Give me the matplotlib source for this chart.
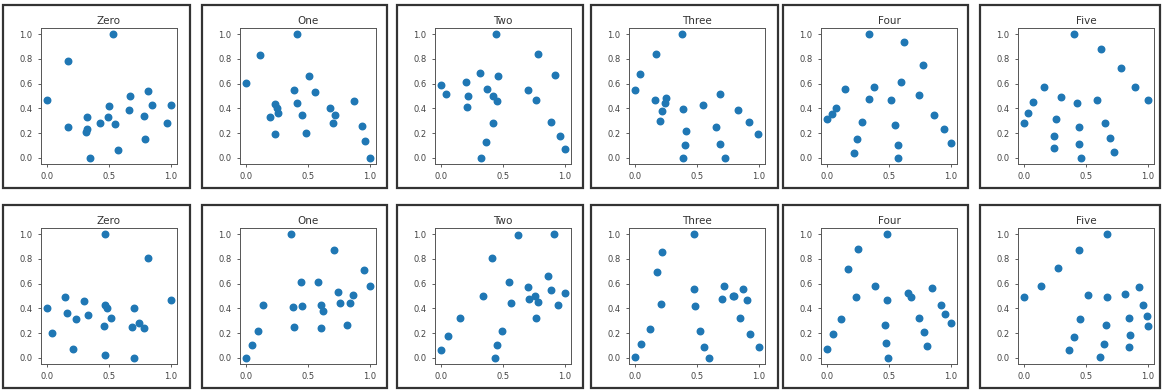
import matplotlib.pyplot as plt
from matplotlib.patches import Rectangle

titles = ["Zero", "One", "Two", "Three", "Four", "Five"]

# top row
zero_top_x = [0.0, 0.167, 0.167, 0.53, 0.325, 0.325, 0.315, 0.35, 0.43, 0.5, 0.49, 0.55, 0.57, 0.67, 0.665, 0.815, 0.845, 0.78, 0.79, 0.97, 1.0]
zero_top_y = [0.47, 0.78, 0.25, 1.0, 0.33, 0.23, 0.21, 0.0, 0.28, 0.42, 0.33, 0.27, 0.06, 0.5, 0.39, 0.54, 0.43, 0.34, 0.15, 0.28, 0.43]
one_top_x = [0.0, 0.11, 0.41, 0.195, 0.235, 0.25, 0.255, 0.23, 0.385, 0.41, 0.45, 0.505, 0.555, 0.485, 0.68, 0.72, 0.705, 0.87, 0.94, 0.96, 1.0]
one_top_y = [0.605, 0.83, 1.0, 0.33, 0.435, 0.4, 0.36, 0.19, 0.55, 0.445, 0.35, 0.66, 0.53, 0.2, 0.4, 0.35, 0.28, 0.46, 0.26, 0.14, 0.0]
two_top_x = [0.0, 0.04, 0.2, 0.22, 0.21, 0.31, 0.37, 0.44, 0.46, 0.42, 0.45, 0.42, 0.36, 0.32, 0.7, 0.78, 0.77, 0.92, 0.89, 0.96, 1.0]
two_top_y = [0.59, 0.515, 0.61, 0.5, 0.41, 0.69, 0.555, 1.0, 0.66, 0.5, 0.46, 0.28, 0.13, 0.0, 0.55, 0.84, 0.47, 0.67, 0.29, 0.18, 0.07]
three_top_x = [0.0, 0.035, 0.17, 0.375, 0.16, 0.25, 0.24, 0.22, 0.2, 0.39, 0.415, 0.4, 0.39, 0.55, 0.69, 0.65, 0.69, 0.725, 0.835, 0.92, 0.995]
three_top_y = [0.545, 0.68, 0.84, 1.0, 0.47, 0.48, 0.44, 0.38, 0.3, 0.395, 0.22, 0.1, 0.0, 0.43, 0.515, 0.25, 0.11, 0.0, 0.385, 0.29, 0.19]
four_top_x = [0.0, 0.035, 0.07, 0.145, 0.22, 0.245, 0.28, 0.335, 0.335, 0.38, 0.52, 0.6, 0.55, 0.57, 0.57, 0.625, 0.775, 0.74, 0.86, 0.945, 1.0]
four_top_y = [0.31, 0.355, 0.405, 0.555, 0.04, 0.15, 0.29, 0.475, 1.0, 0.57, 0.47, 0.61, 0.265, 0.105, 0.0, 0.94, 0.75, 0.51, 0.35, 0.23, 0.12]
five_top_x = [0.0, 0.03, 0.07, 0.16, 0.295, 0.405, 0.255, 0.24, 0.24, 0.43, 0.44, 0.445, 0.46, 0.62, 0.59, 0.655, 0.695, 0.73, 0.78, 0.9, 1.0]
five_top_y = [0.285, 0.365, 0.455, 0.57, 0.49, 1.0, 0.31, 0.18, 0.08, 0.445, 0.25, 0.11, 0.0, 0.88, 0.465, 0.285, 0.16, 0.045, 0.725, 0.57, 0.465]

# bottom row
zero_bot_x = [0.0, 0.035, 0.145, 0.16, 0.21, 0.235, 0.3, 0.33, 0.47, 0.47, 0.48, 0.52, 0.46, 0.465, 0.7, 0.685, 0.74, 0.785, 0.705, 0.815, 1.0]
zero_bot_y = [0.405, 0.2, 0.49, 0.36, 0.075, 0.31, 0.46, 0.35, 1.0, 0.425, 0.405, 0.325, 0.26, 0.02, 0.405, 0.25, 0.285, 0.245, 0.0, 0.805, 0.465]
one_bot_x = [0.0, 0.05, 0.095, 0.14, 0.365, 0.38, 0.385, 0.445, 0.455, 0.58, 0.605, 0.62, 0.605, 0.71, 0.74, 0.76, 0.84, 0.865, 0.815, 0.95, 1.0]
one_bot_y = [0.0, 0.1, 0.215, 0.425, 1.0, 0.41, 0.25, 0.61, 0.42, 0.61, 0.43, 0.38, 0.245, 0.87, 0.535, 0.44, 0.44, 0.51, 0.265, 0.71, 0.58]
two_bot_x = [0.0, 0.055, 0.15, 0.34, 0.415, 0.435, 0.455, 0.49, 0.55, 0.565, 0.625, 0.705, 0.71, 0.76, 0.785, 0.765, 0.865, 0.885, 0.91, 0.945, 1.0]
two_bot_y = [0.06, 0.18, 0.325, 0.5, 0.81, 0.0, 0.1, 0.22, 0.615, 0.44, 0.995, 0.575, 0.475, 0.5, 0.455, 0.32, 0.66, 0.55, 1.0, 0.43, 0.525]
three_bot_x = [0.0, 0.05, 0.12, 0.18, 0.22, 0.21, 0.475, 0.475, 0.48, 0.525, 0.555, 0.6, 0.705, 0.72, 0.79, 0.8, 0.875, 0.905, 0.85, 0.93, 1.0]
three_bot_y = [0.005, 0.11, 0.235, 0.695, 0.855, 0.435, 1.0, 0.56, 0.42, 0.215, 0.09, 0.0, 0.475, 0.58, 0.5, 0.5, 0.56, 0.47, 0.32, 0.19, 0.09]
four_bot_x = [0.0, 0.045, 0.11, 0.165, 0.25, 0.23, 0.385, 0.48, 0.48, 0.47, 0.475, 0.495, 0.655, 0.68, 0.745, 0.78, 0.81, 0.85, 0.92, 0.955, 1.0]
four_bot_y = [0.068, 0.19, 0.31, 0.72, 0.88, 0.49, 0.58, 1.0, 0.465, 0.265, 0.12, 0.0, 0.525, 0.49, 0.32, 0.205, 0.095, 0.565, 0.43, 0.355, 0.28]
five_bot_x = [0.0, 0.14, 0.275, 0.445, 0.67, 0.515, 0.67, 0.815, 0.925, 0.965, 0.995, 1.0, 0.85, 0.855, 0.85, 0.45, 0.4, 0.36, 0.66, 0.645, 0.61]
five_bot_y = [0.49, 0.58, 0.725, 0.875, 1.0, 0.51, 0.49, 0.515, 0.575, 0.43, 0.335, 0.255, 0.32, 0.185, 0.09, 0.315, 0.17, 0.06, 0.265, 0.115, 0.005]

rows = [
    [(zero_top_x, zero_top_y), (one_top_x, one_top_y), (two_top_x, two_top_y),
     (three_top_x, three_top_y), (four_top_x, four_top_y), (five_top_x, five_top_y)],
    [(zero_bot_x, zero_bot_y), (one_bot_x, one_bot_y), (two_bot_x, two_bot_y),
     (three_bot_x, three_bot_y), (four_bot_x, four_bot_y), (five_bot_x, five_bot_y)],
]

W, H = 1162, 390
fig = plt.figure(figsize=(W / 100, H / 100), dpi=100)

# panel boxes in pixels
panel_left = [3, 202, 397, 591, 783, 980]
panel_w = [187, 185, 186, 187, 185, 180]
row_top = [5, 205]
panel_h = 183

for r, row in enumerate(rows):
    for c, (xs, ys) in enumerate(row):
        px, py = panel_left[c], row_top[r]
        # frame around each small figure
        fig.patches.append(Rectangle((px / W, 1 - (py + panel_h) / H), panel_w[c] / W, panel_h / H,
                                     transform=fig.transFigure, fill=False,
                                     edgecolor='#333333', linewidth=1.6))
        ax = fig.add_axes([(px + 38) / W, 1 - (py + 23 + 136) / H, 136 / W, 136 / H])
        ax.scatter(xs, ys, s=22, color='#1f77b4')
        ax.set_title(titles[c], fontsize=7.5, color='#333333', pad=3)
        ax.set_xlim(-0.05, 1.05)
        ax.set_ylim(-0.05, 1.05)
        ax.set_xticks([0.0, 0.5, 1.0])
        ax.set_yticks([0.0, 0.2, 0.4, 0.6, 0.8, 1.0])
        ax.tick_params(labelsize=6, colors='#444444', length=2.5, width=0.6)
        for s in ax.spines.values():
            s.set_color('#555555')
            s.set_linewidth(0.7)

plt.savefig("out.png", dpi=100)
